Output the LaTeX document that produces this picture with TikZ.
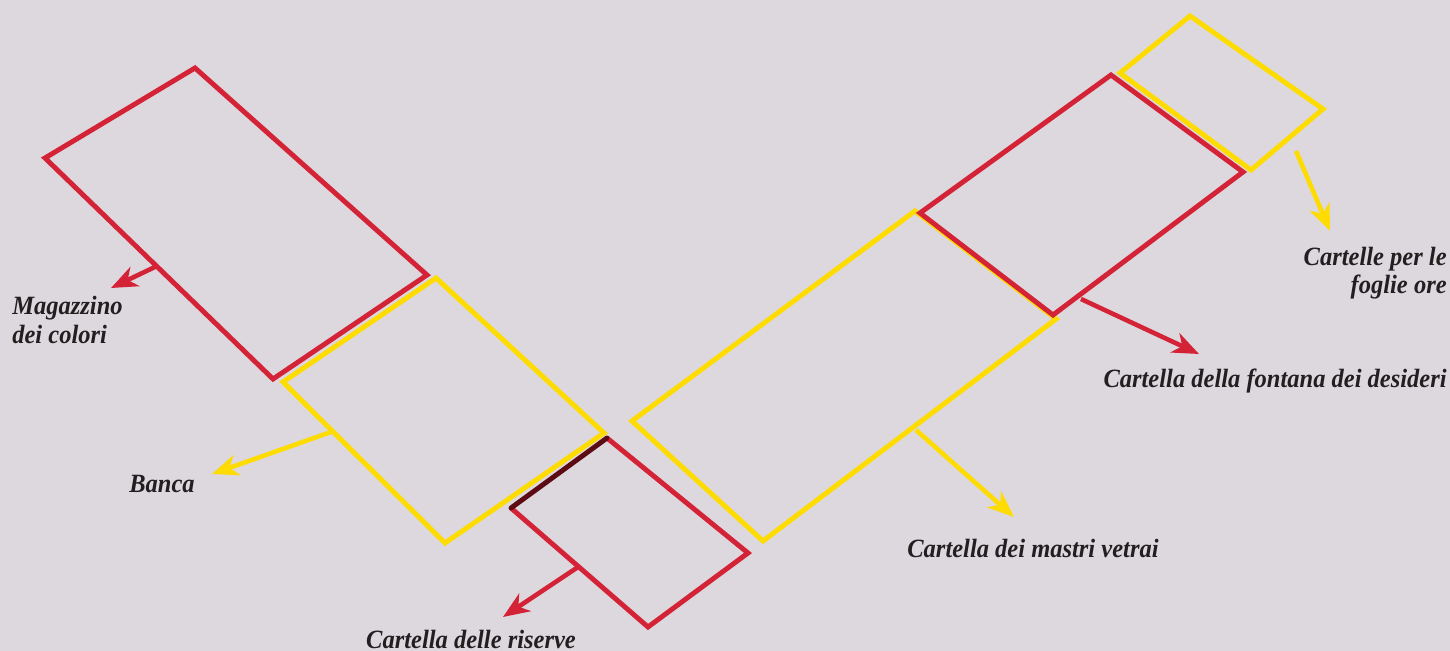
\documentclass[tikz,border=0pt]{standalone}
\usepackage{fontspec}
\setmainfont{Liberation Serif}
\newfontfamily\lblfont[FakeStretch=0.93]{Liberation Serif}
\usetikzlibrary{arrows.meta, positioning}
\definecolor{BoxRed}{HTML}{D42236}
\definecolor{BoxYellow}{HTML}{FFDC00}
\definecolor{EdgeDark}{HTML}{5C0A14}
\definecolor{PaperGray}{HTML}{DCD8DE}
\definecolor{InkDark}{HTML}{231F20}
\tikzset{
  >={Stealth[length=15pt,width=12pt,inset=4.5pt]},
  % riquadri delle cartelle
  box red/.style={draw=BoxRed,line width=2.8pt},
  box yellow/.style={draw=BoxYellow,line width=2.8pt},
  % frecce verso le etichette
  arrow red/.style={->,BoxRed,line width=2.6pt},
  arrow yellow/.style={->,BoxYellow,line width=2.6pt},
  % etichette
  lbl/.style={font=\lblfont\bfseries\itshape\fontsize{15}{16}\selectfont,text=InkDark,inner sep=0pt}
}

\begin{document}
\begin{tikzpicture}[x=0.02cm,y=-0.02cm]
    \fill[PaperGray] (0,0) rectangle (1450,651);
    \useasboundingbox (0,0) rectangle (1450,651);
    % Magazzino dei colori
    \draw[box red] (45,158) -- (195,68) -- (427,275) -- (273,379) -- cycle;
    % Banca
    \draw[box yellow] (283,382) -- (436,278) -- (604,433) -- (445,543) -- cycle;
    % Cartella delle riserve
    \draw[box red] (607,438) -- (748,553) -- (648,627) -- (511,508);
    \draw[EdgeDark,line width=2.8pt,line cap=round] (511,508) -- (607,438);
    % Cartella dei mastri vetrai
    \draw[box yellow] (632,421) -- (915,211) -- (1056,319) -- (763,541) -- cycle;
    % Cartella della fontana dei desideri
    \draw[box red] (920,213) -- (1111,75) -- (1243,172) -- (1053,315) -- cycle;
    % Cartelle per le foglie ore
    \draw[box yellow] (1120,73) -- (1190,16) -- (1323,109) -- (1251,170) -- cycle;

    % punti di partenza delle frecce
    \coordinate (mag from) at (157,266);
    \coordinate (mag to) at (111,288);
    \coordinate (ban from) at (331,432);
    \coordinate (ban to) at (212,474);
    \coordinate (ris from) at (578,567);
    \coordinate (ris to) at (503,617);
    \coordinate (mas from) at (916,430);
    \coordinate (mas to) at (1014,517);
    \coordinate (fon from) at (1081,299);
    \coordinate (fon to) at (1199,354);
    \coordinate (fog from) at (1296,151);
    \coordinate (fog to) at (1330,231);

    \draw[arrow red] (mag from) -- (mag to);
    \draw[arrow yellow] (ban from) -- (ban to);
    \draw[arrow red] (ris from) -- (ris to);
    \draw[arrow yellow] (mas from) -- (mas to);
    \draw[arrow red] (fon from) -- (fon to);
    \draw[arrow yellow] (fog from) -- (fog to);

    % etichette
    \node[lbl,anchor=west,align=left] (mag) at (12,320) {Magazzino\\dei colori};
    \node[lbl,anchor=west] (ban) at (129,484) {Banca};
    \node[lbl] (ris) at (471,639) {Cartella delle riserve};
    \node[lbl,anchor=west] (mas) at (907,548) {Cartella dei mastri vetrai};
    \node[lbl,anchor=east] (fon) at (1447,381) {Cartella della fontana dei desideri};
    \node[lbl,anchor=east,align=right] (fog) at (1447,273) {Cartelle per le\\foglie ore};
\end{tikzpicture}
\end{document}
